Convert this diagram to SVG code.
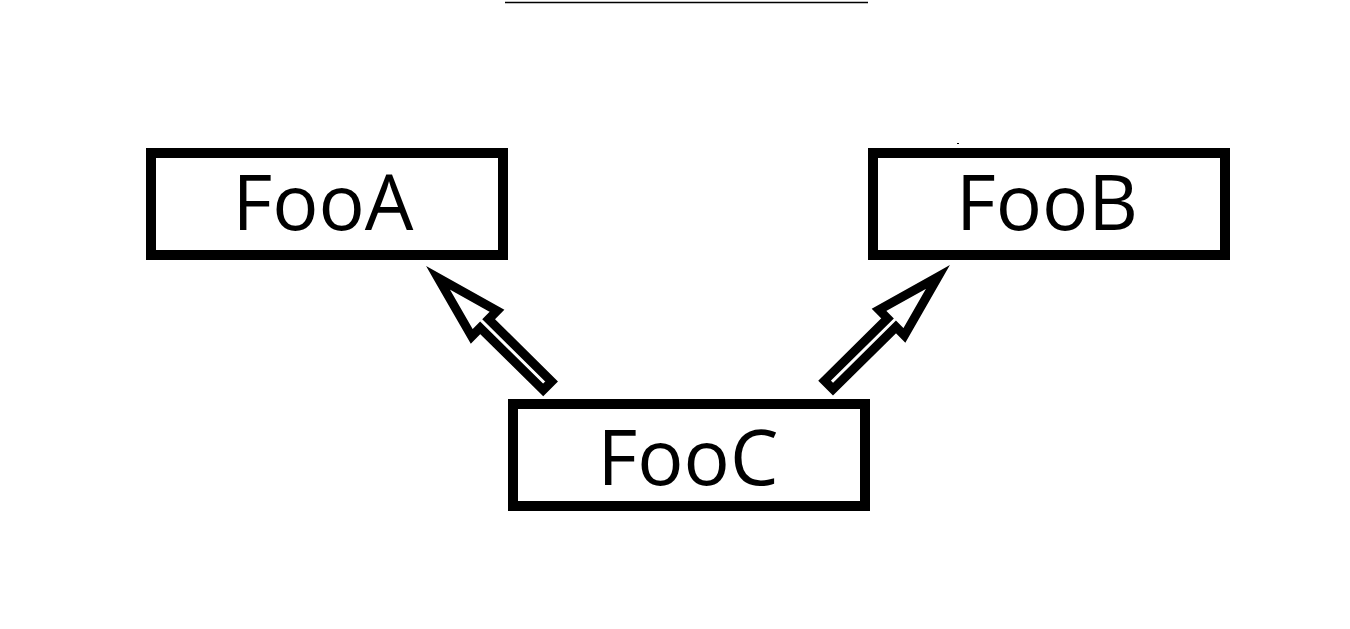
<svg xmlns="http://www.w3.org/2000/svg" width="1350" height="629" viewBox="0 0 1350 629">
<defs>
<style>
.box{fill:#fff;stroke:#000;stroke-width:10}
.lbl{font-family:"Open Sans","Noto Sans",sans-serif;font-size:77px;fill:#000;text-anchor:middle}
.arr{fill:#fff;stroke:#000;stroke-width:9;stroke-linejoin:miter;stroke-miterlimit:10}
</style>
<polygon id="blockArrow" class="arr" points="17,0 82,18 82,6 170.5,6 170.5,-6 82,-6 82,-18"/>
</defs>
<rect width="1350" height="629" fill="#fff"/>
<line x1="505" y1="2.5" x2="868" y2="2.5" stroke="#000" stroke-width="1.5"/>
<rect x="957" y="143" width="2" height="1" fill="#000"/>
<g id="connectors">
<use href="#blockArrow" transform="translate(426,266) rotate(44.6)"/>
<use href="#blockArrow" transform="translate(950,265) rotate(135.3)"/>
</g>
<g id="FooA">
<rect class="box" x="151" y="153" width="352" height="102"/>
<text class="lbl" x="323" y="230">FooA</text>
</g>
<g id="FooB">
<rect class="box" x="873" y="153" width="352" height="102"/>
<text class="lbl" x="1047" y="230">FooB</text>
</g>
<g id="FooC">
<rect class="box" x="513" y="404" width="352" height="102"/>
<text class="lbl" x="688" y="485">FooC</text>
</g>
</svg>
